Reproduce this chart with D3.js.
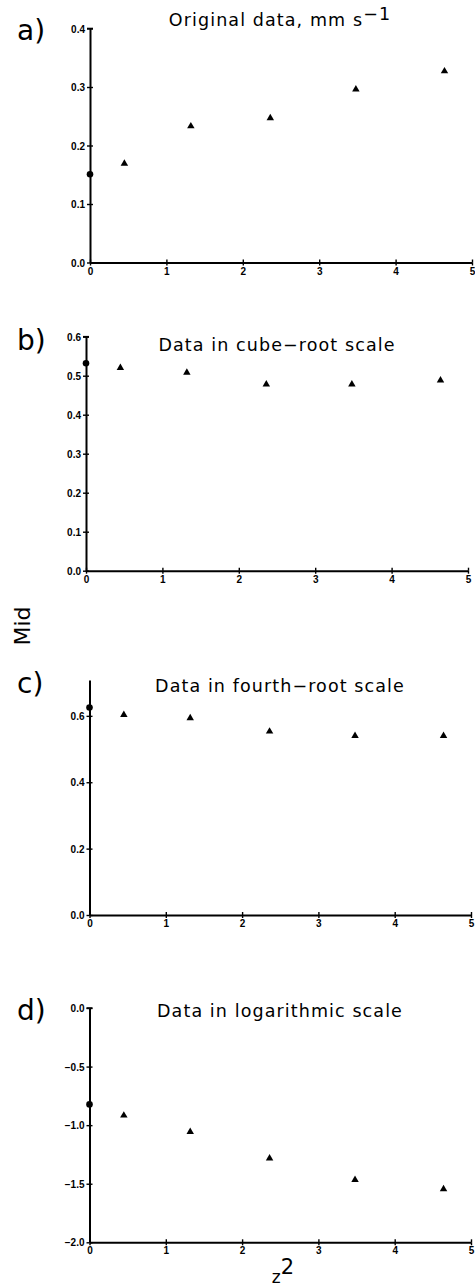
<!DOCTYPE html>
<html>
<head>
<meta charset="utf-8">
<script src="https://cdn.jsdelivr.net/npm/d3@7/dist/d3.min.js"></script>
<style>
  html, body { margin: 0; padding: 0; background: #fff; }
  svg { display: block; }
  .tick text { font-family: "Liberation Sans", Arial, sans-serif; font-weight: bold; font-size: 10px; fill: #000; }
  .title { font-family: "DejaVu Sans", sans-serif; font-size: 17.5px; letter-spacing: 1.1px; fill: #000; }
  .plabel { font-family: "DejaVu Sans", sans-serif; font-size: 28px; fill: #000; }
</style>
</head>
<body>
<svg id="chart" width="475" height="1286"></svg>
<script>
// z^2 positions shared by all four panels
const zSquared = [0, 0.45, 1.32, 2.36, 3.48, 4.64];

// Median values in each transformation
const originalValues = [0.151, 0.169, 0.233, 0.247, 0.296, 0.327];
const cubeRootValues = [0.532, 0.520, 0.508, 0.478, 0.478, 0.488];
const fourthRootValues = [0.625, 0.603, 0.593, 0.553, 0.540, 0.540];
const logValues = [-0.823, -0.917, -1.057, -1.283, -1.466, -1.545];

const xTicks = [0, 1, 2, 3, 4, 5];
const yTicksA = [0.0, 0.1, 0.2, 0.3, 0.4];
const yTicksB = [0.0, 0.1, 0.2, 0.3, 0.4, 0.5, 0.6];
const yTicksC = [0.0, 0.2, 0.4, 0.6];
const yTicksD = [-2.0, -1.5, -1.0, -0.5, 0.0];

const panels = [
  { tag: "a)", title: "Original data, mm s", sup: "\u22121", values: originalValues,
    ticks: yTicksA, domain: [0, 0.4], x0: 90, x1: 472, y0: 262.5, y1: 28.5, cap: true,
    titleX: 280, titleY: 26, tagY: 40 },
  { tag: "b)", title: "Data in cube\u2212root scale", sup: null, values: cubeRootValues,
    ticks: yTicksB, domain: [0, 0.6], x0: 86, x1: 468, y0: 570.7, y1: 336.7, cap: true,
    titleX: 277, titleY: 351, tagY: 350 },
  { tag: "c)", title: "Data in fourth\u2212root scale", sup: null, values: fourthRootValues,
    ticks: yTicksC, domain: [0, 0.708], x0: 89.5, x1: 471, y0: 915, y1: 680, cap: false,
    titleX: 280, titleY: 692, tagY: 693 },
  { tag: "d)", title: "Data in logarithmic scale", sup: null, values: logValues,
    ticks: yTicksD, domain: [-2, 0], x0: 89.5, x1: 471, y0: 1242.3, y1: 1008, cap: true,
    titleX: 280, titleY: 1017, tagY: 1020 }
];

const svg = d3.select("#chart");
const fmt = d3.format(".1f");

panels.forEach(p => {
  const x = d3.scaleLinear().domain([0, 5]).range([p.x0, p.x1]);
  const y = d3.scaleLinear().domain(p.domain).range([p.y0, p.y1]);
  const g = svg.append("g");

  // y axis: outer ticks with labels, plus inner half of the cross ticks
  const yAxis = g.append("g").attr("transform", `translate(${p.x0},0)`)
    .call(d3.axisLeft(y).tickValues(p.ticks).tickFormat(fmt).tickSizeInner(3).tickSizeOuter(0).tickPadding(2));
  g.append("g").attr("transform", `translate(${p.x0},0)`)
    .call(d3.axisLeft(y).tickValues(p.ticks).tickFormat("").tickSizeInner(-3).tickSizeOuter(0))
    .select(".domain").remove();

  // x axis with cross ticks
  g.append("g").attr("transform", `translate(0,${p.y0})`)
    .call(d3.axisBottom(x).tickValues(xTicks).tickFormat(d3.format("d")).tickSizeInner(3).tickSizeOuter(0).tickPadding(2));
  g.append("g").attr("transform", `translate(0,${p.y0})`)
    .call(d3.axisBottom(x).tickValues(xTicks).tickFormat("").tickSizeInner(-3).tickSizeOuter(0))
    .select(".domain").remove();

  g.selectAll(".domain").attr("stroke", "#000").attr("stroke-width", 2);
  g.selectAll(".tick line").attr("stroke", "#000").attr("stroke-width", 1.4);
  yAxis.selectAll(".tick text").attr("dy", "0.35em");

  // cap at the top of the y axis
  if (p.cap) {
    g.append("line")
      .attr("x1", p.x0 - 3).attr("x2", p.x0 + 3)
      .attr("y1", y(p.domain[1])).attr("y2", y(p.domain[1]))
      .attr("stroke", "#000").attr("stroke-width", 1.6);
  }

  // markers: circle for z^2 = 0, triangles elsewhere
  const pts = zSquared.map((z, i) => ({ z, v: p.values[i], i }));
  g.selectAll("path.mark").data(pts).join("path")
    .attr("class", "mark")
    .attr("transform", d => `translate(${x(d.z)},${y(d.v)})`)
    .attr("d", d => d.i === 0
      ? d3.symbol(d3.symbolCircle, 34)()
      : d3.symbol(d3.symbolTriangle, 24)())
    .attr("fill", "#000");

  // panel title
  const t = g.append("text").attr("class", "title")
    .attr("x", p.titleX).attr("y", p.titleY).attr("text-anchor", "middle")
    .text(p.title);
  if (p.sup) {
    t.append("tspan").attr("dy", -6).text(p.sup);
  }

  // panel letter
  g.append("text").attr("class", "plabel")
    .attr("x", 17).attr("y", p.tagY).text(p.tag);
});

// shared axis titles
svg.append("text")
  .attr("transform", "translate(30,626) rotate(-90)")
  .attr("text-anchor", "middle")
  .attr("font-family", "DejaVu Sans, sans-serif")
  .attr("font-size", 22)
  .text("Mid");

const xt = svg.append("text")
  .attr("x", 283).attr("y", 1283)
  .attr("text-anchor", "middle")
  .attr("font-family", "DejaVu Sans, sans-serif")
  .attr("font-size", 17)
  .text("z");
xt.append("tspan").attr("dy", -9).attr("font-size", 21).text("2");
</script>
</body>
</html>
